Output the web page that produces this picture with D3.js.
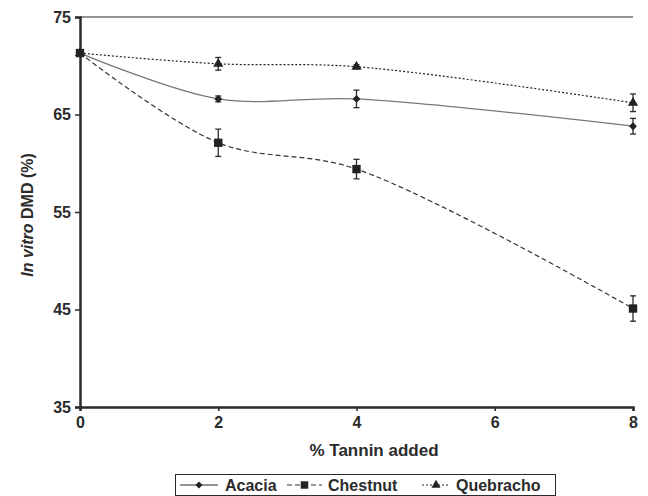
<!DOCTYPE html>
<html>
<head>
<meta charset="utf-8">
<script src="https://cdn.jsdelivr.net/npm/d3@7"></script>
<style>
  html, body { margin: 0; padding: 0; background: #fff; }
  svg { display: block; font-family: "Liberation Sans", Arial, sans-serif; }
</style>
</head>
<body>
<div id="chart"></div>
<script>
const tanninLevels = [0, 2, 4, 8];
const acacia = [71.3, 66.6, 66.6, 63.8];
const acaciaErr = [0.3, 0.3, 0.9, 0.8];
const chestnut = [71.3, 62.1, 59.4, 45.1];
const chestnutErr = [0.3, 1.4, 1.0, 1.3];
const quebracho = [71.3, 70.2, 69.9, 66.2];
const quebrachoErr = [0.3, 0.65, 0.2, 0.9];
const xTicks = [0, 2, 4, 6, 8];
const yTicks = [35, 45, 55, 65, 75];

const W = 648, H = 496;
const margin = { top: 17, right: 15, bottom: 89, left: 80 };
const width = W - margin.left - margin.right;
const height = H - margin.top - margin.bottom;
const ink = '#2b2b2b';

const svg = d3.select('#chart').append('svg').attr('width', W).attr('height', H);
const g = svg.append('g').attr('transform', `translate(${margin.left},${margin.top})`);

const x = d3.scaleLinear().domain([0, 8]).range([0, width]);
const y = d3.scaleLinear().domain([35, 75]).range([height, 0]);

// top border line
g.append('line').attr('x1', 0).attr('x2', width).attr('y1', 0).attr('y2', 0)
  .attr('stroke', ink).attr('stroke-width', 1);

const xAxis = g.append('g').attr('transform', `translate(0,${height})`)
  .call(d3.axisBottom(x).tickValues(xTicks).tickSize(4).tickPadding(6).tickFormat(d3.format('d')));
const yAxis = g.append('g')
  .call(d3.axisLeft(y).tickValues(yTicks).tickSize(5).tickPadding(4));
[xAxis, yAxis].forEach(ax => {
  ax.select('.domain').attr('stroke', ink).attr('stroke-width', 2.5);
  ax.selectAll('.tick line').attr('stroke', ink).attr('stroke-width', 1.5);
  ax.selectAll('.tick text').attr('fill', ink).style('font-size', '16px').style('font-weight', 'bold')
    .style('font-family', '"Liberation Sans", Arial, sans-serif');
});

// axis titles
svg.append('text').attr('x', 374).attr('y', 456).attr('text-anchor', 'middle')
  .attr('fill', ink).style('font-size', '17px').style('font-weight', 'bold').text('% Tannin added');
const yl = svg.append('text').attr('transform', `translate(33,215) rotate(-90)`)
  .attr('text-anchor', 'middle').attr('fill', ink).style('font-size', '16px').style('font-weight', 'bold');
yl.append('tspan').style('font-style', 'italic').text('In vitro');
yl.append('tspan').text(' DMD (%)');

const series = [
  { name: 'Acacia', values: acacia, err: acaciaErr, dash: null, stroke: '#777', marker: d3.symbolDiamond2, size: 40 },
  { name: 'Chestnut', values: chestnut, err: chestnutErr, dash: '5,3', stroke: '#333', marker: d3.symbolSquare, size: 70 },
  { name: 'Quebracho', values: quebracho, err: quebrachoErr, dash: '2,2', stroke: '#222', marker: d3.symbolTriangle, size: 45 }
];

const line = d3.line().x(d => x(d[0])).y(d => y(d[1])).curve(d3.curveCatmullRom.alpha(0.5));

series.forEach(s => {
  const pts = tanninLevels.map((t, i) => [t, s.values[i], s.err[i]]);
  g.append('path').datum(pts).attr('d', line).attr('fill', 'none')
    .attr('stroke', s.stroke).attr('stroke-width', 1.2).attr('stroke-dasharray', s.dash);
  const eb = g.append('g').attr('stroke', ink).attr('stroke-width', 1.3);
  pts.forEach(p => {
    const cx = x(p[0]);
    eb.append('line').attr('x1', cx).attr('x2', cx).attr('y1', y(p[1] - p[2])).attr('y2', y(p[1] + p[2]));
    [p[1] - p[2], p[1] + p[2]].forEach(v => {
      eb.append('line').attr('x1', cx - 3).attr('x2', cx + 3).attr('y1', y(v)).attr('y2', y(v));
    });
  });
  g.selectAll(null).data(pts).enter().append('path')
    .attr('d', d3.symbol().type(s.marker).size(s.size))
    .attr('transform', d => `translate(${x(d[0])},${y(d[1])})`)
    .attr('fill', '#222');
});

// legend
const lg = svg.append('g');
lg.append('rect').attr('x', 175.5).attr('y', 474.5).attr('width', 380).attr('height', 21)
  .attr('fill', '#fff').attr('stroke', ink).attr('stroke-width', 1);
const legendPos = [{ x0: 180, x1: 218, tx: 225 }, { x0: 287, x1: 322, tx: 328 }, { x0: 422, x1: 450, tx: 456 }];
series.forEach((s, i) => {
  const p = legendPos[i];
  const cy = 485;
  lg.append('line').attr('x1', p.x0).attr('x2', p.x1).attr('y1', cy).attr('y2', cy)
    .attr('stroke', s.name === 'Acacia' ? ink : s.stroke).attr('stroke-width', 1.2).attr('stroke-dasharray', s.dash);
  lg.append('path').attr('d', d3.symbol().type(s.marker).size(s.size * 0.8))
    .attr('transform', `translate(${(p.x0 + p.x1) / 2},${cy})`).attr('fill', '#222');
  lg.append('text').attr('x', p.tx).attr('y', cy + 5.5).attr('fill', ink)
    .style('font-size', '16px').style('font-weight', 'bold').text(s.name);
});
</script>
</body>
</html>
